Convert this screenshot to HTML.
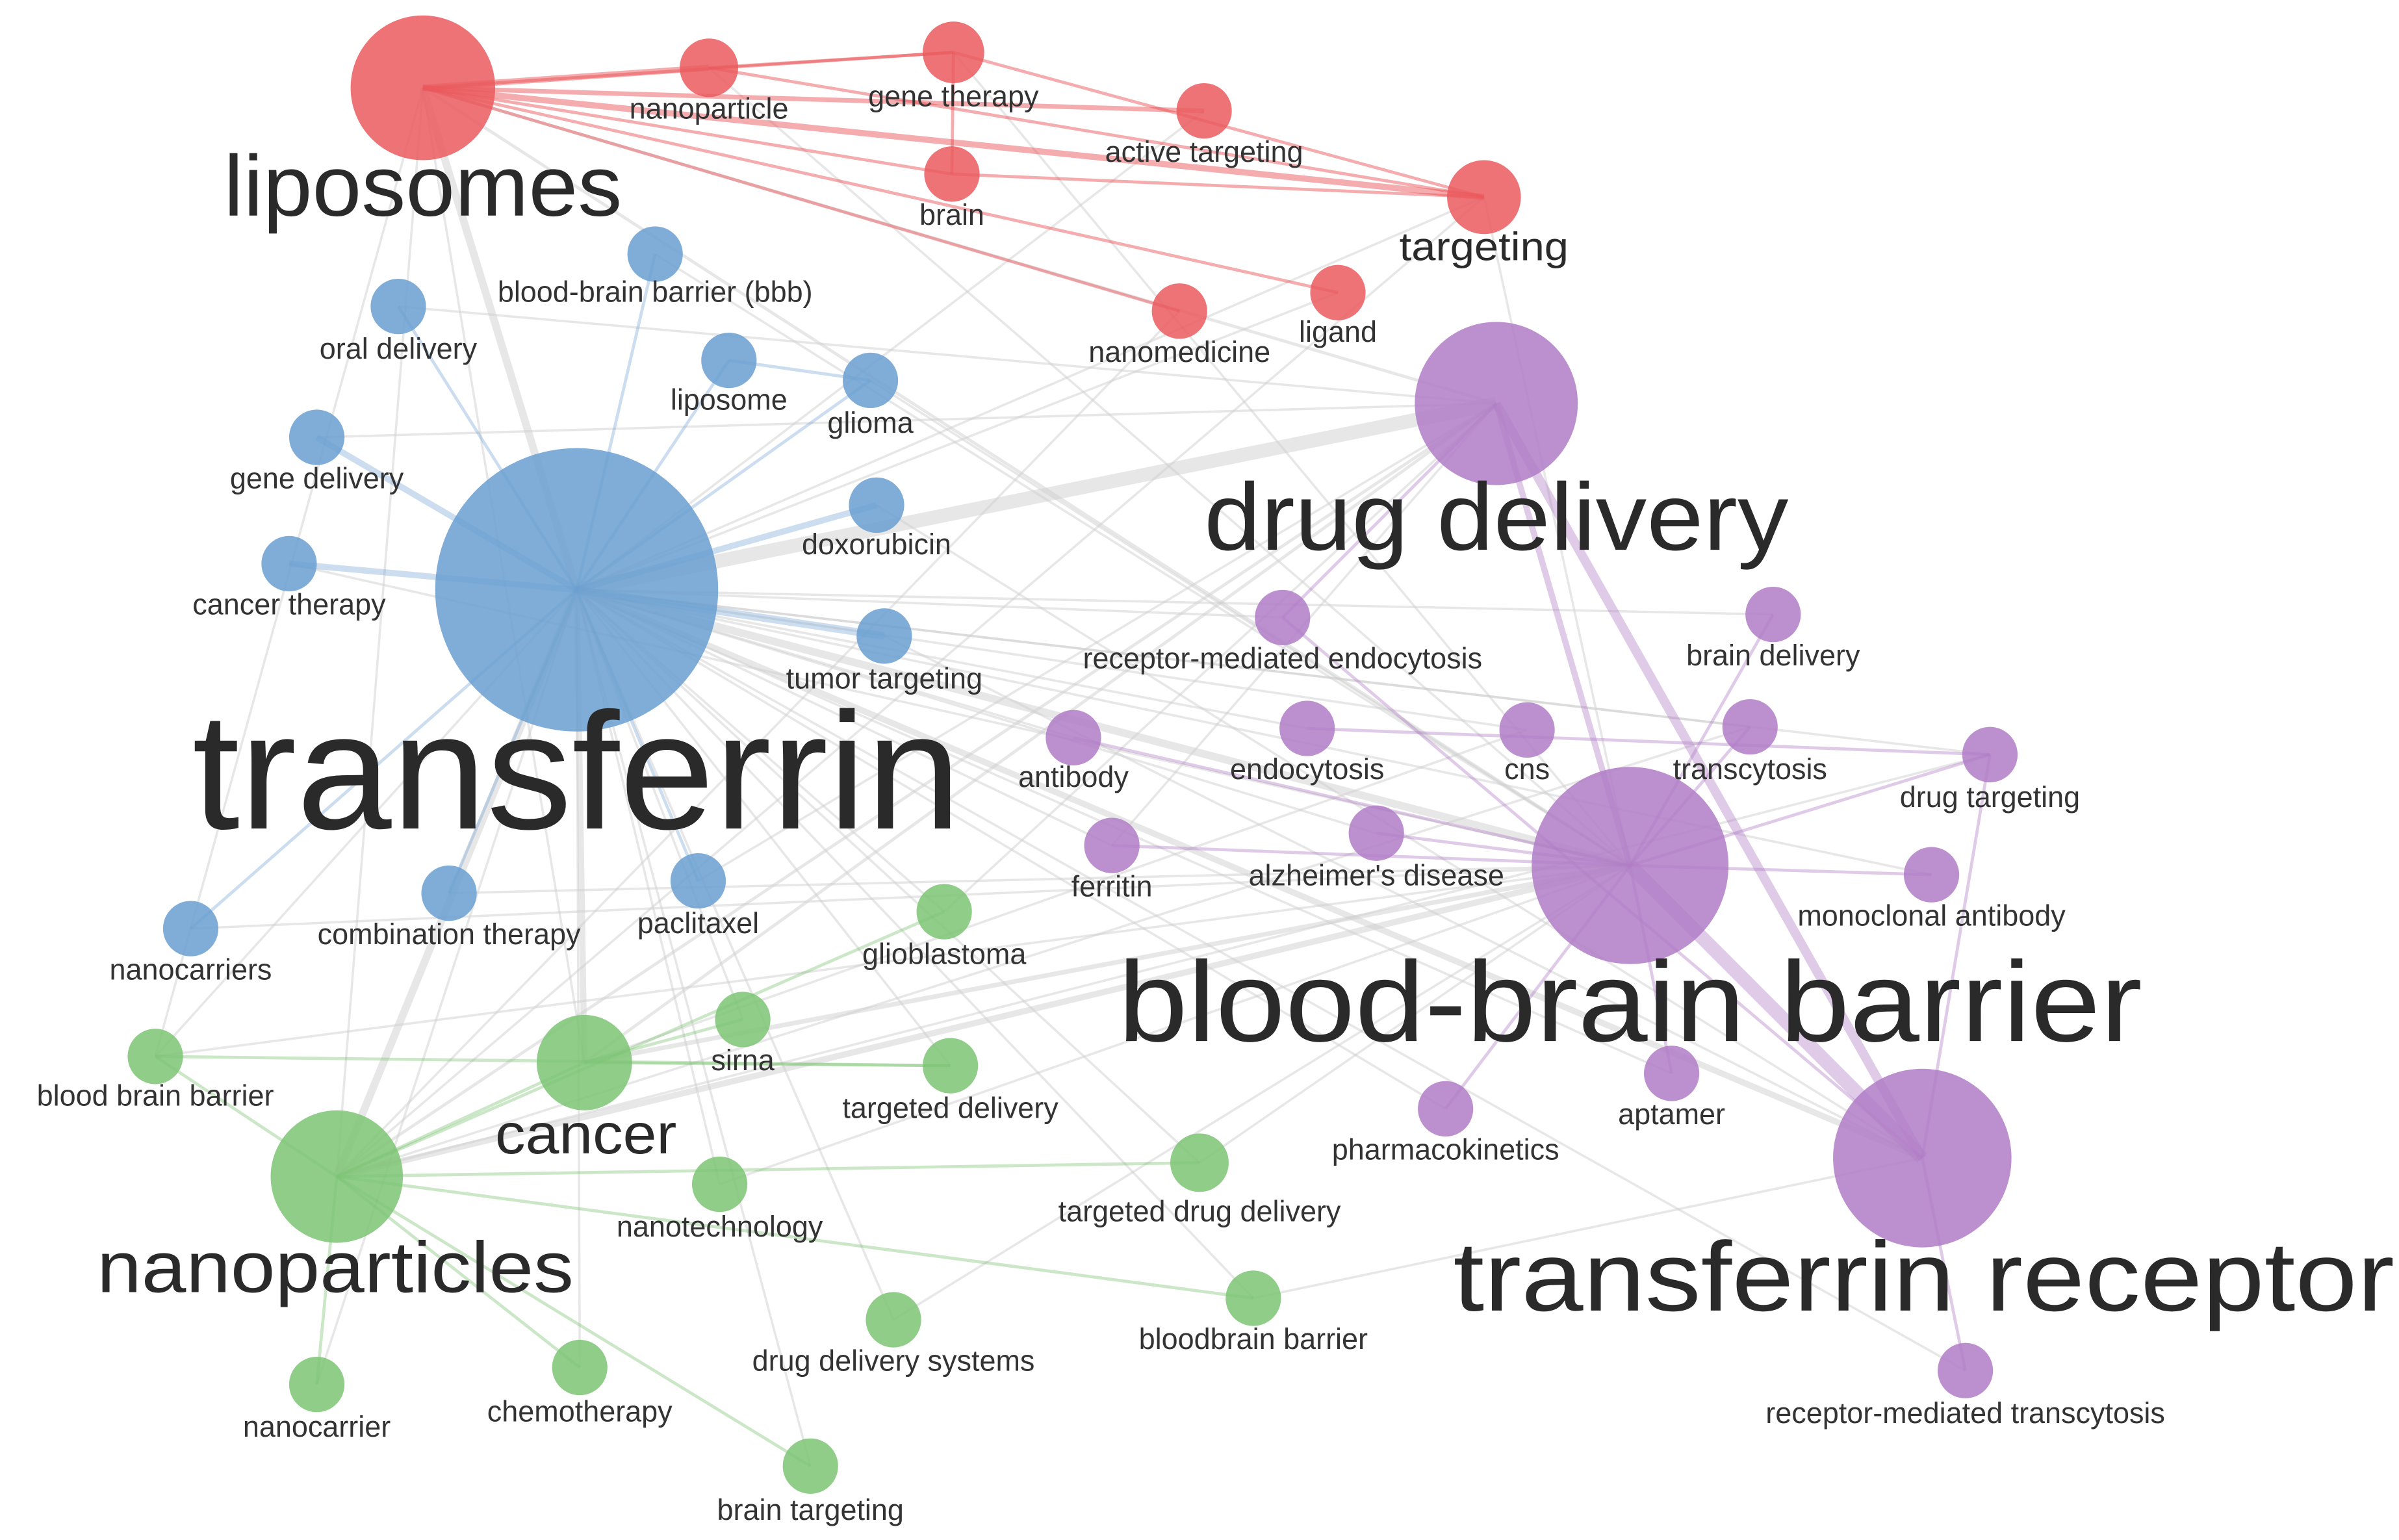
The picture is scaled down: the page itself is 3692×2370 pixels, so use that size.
<!DOCTYPE html>
<html><head><meta charset="utf-8"><style>
html,body{margin:0;padding:0;background:#fff;}
svg{display:block;}
text{font-family:"Liberation Sans",sans-serif;fill:#2a2a2a;text-anchor:middle;}
.s{font-size:19px;fill:#333;}
</style></head><body>
<svg width="3692" height="2370" viewBox="0 0 1560 1000" preserveAspectRatio="none" xmlns="http://www.w3.org/2000/svg">
<g stroke="#d0d0d0" stroke-opacity="0.5" stroke-width="1.5" fill="none">
<line x1="375" y1="383" x2="973" y2="262" stroke-width="9"/>
<line x1="375" y1="383" x2="1060" y2="562" stroke-width="5"/>
<line x1="375" y1="383" x2="1250" y2="752" stroke-width="4"/>
<line x1="375" y1="383" x2="219" y2="764" stroke-width="5"/>
<line x1="375" y1="383" x2="380" y2="690" stroke-width="4"/>
<line x1="375" y1="383" x2="275" y2="57" stroke-width="5"/>
<line x1="219" y1="764" x2="1060" y2="562" stroke-width="4"/>
<line x1="219" y1="764" x2="973" y2="262" stroke-width="2"/>
<line x1="380" y1="690" x2="973" y2="262" stroke-width="2"/>
<line x1="380" y1="690" x2="1060" y2="562" stroke-width="3"/>
<line x1="275" y1="57" x2="1060" y2="562" stroke-width="2"/>
<line x1="275" y1="57" x2="973" y2="262" stroke-width="2"/>
<line x1="275" y1="57" x2="219" y2="764"/>
<line x1="275" y1="57" x2="101" y2="686"/>
<line x1="275" y1="57" x2="380" y2="690"/>
<line x1="965" y1="128" x2="375" y2="383"/>
<line x1="965" y1="128" x2="1060" y2="562"/>
<line x1="965" y1="128" x2="219" y2="764"/>
<line x1="767" y1="202" x2="219" y2="764"/>
<line x1="620" y1="34" x2="1060" y2="562"/>
<line x1="461" y1="44" x2="1060" y2="562"/>
<line x1="783" y1="72" x2="375" y2="383"/>
<line x1="870" y1="190" x2="375" y2="383"/>
<line x1="1294" y1="490" x2="375" y2="383"/>
<line x1="1153" y1="399" x2="375" y2="383"/>
<line x1="1138" y1="472" x2="375" y2="383"/>
<line x1="993" y1="474" x2="375" y2="383"/>
<line x1="850" y1="473" x2="375" y2="383"/>
<line x1="834" y1="401" x2="375" y2="383"/>
<line x1="698" y1="479" x2="375" y2="383"/>
<line x1="723" y1="549" x2="375" y2="383"/>
<line x1="895" y1="541" x2="375" y2="383"/>
<line x1="1256" y1="568" x2="375" y2="383"/>
<line x1="1278" y1="890" x2="375" y2="383"/>
<line x1="940" y1="720" x2="375" y2="383"/>
<line x1="1087" y1="697" x2="375" y2="383"/>
<line x1="780" y1="755" x2="375" y2="383"/>
<line x1="815" y1="843" x2="375" y2="383"/>
<line x1="581" y1="857" x2="375" y2="383"/>
<line x1="527" y1="952" x2="375" y2="383"/>
<line x1="377" y1="888" x2="375" y2="383"/>
<line x1="206" y1="899" x2="375" y2="383"/>
<line x1="468" y1="769" x2="375" y2="383"/>
<line x1="614" y1="592" x2="375" y2="383"/>
<line x1="618" y1="692" x2="375" y2="383"/>
<line x1="483" y1="662" x2="375" y2="383"/>
<line x1="101" y1="686" x2="375" y2="383"/>
<line x1="101" y1="686" x2="1060" y2="562"/>
<line x1="780" y1="755" x2="1060" y2="562"/>
<line x1="815" y1="843" x2="1250" y2="752"/>
<line x1="581" y1="857" x2="1060" y2="562"/>
<line x1="468" y1="769" x2="1060" y2="562"/>
<line x1="614" y1="592" x2="973" y2="262"/>
<line x1="723" y1="549" x2="973" y2="262"/>
<line x1="426" y1="165" x2="1060" y2="562"/>
<line x1="259" y1="199" x2="973" y2="262"/>
<line x1="566" y1="247" x2="1060" y2="562"/>
<line x1="570" y1="328" x2="1250" y2="752"/>
<line x1="575" y1="413" x2="1250" y2="752"/>
<line x1="1294" y1="490" x2="219" y2="764"/>
<line x1="1138" y1="472" x2="219" y2="764"/>
<line x1="993" y1="474" x2="380" y2="690"/>
<line x1="292" y1="580" x2="1060" y2="562"/>
<line x1="454" y1="572" x2="973" y2="262"/>
<line x1="124" y1="603" x2="1060" y2="562"/>
<line x1="206" y1="284" x2="973" y2="262"/>
<line x1="188" y1="366" x2="1060" y2="562"/>
</g>
<g stroke="#e8484c" stroke-opacity="0.45" stroke-width="2">
<line x1="275" y1="57" x2="461" y2="44" stroke-width="4"/>
<line x1="275" y1="57" x2="620" y2="34"/>
<line x1="275" y1="57" x2="783" y2="72" stroke-width="3"/>
<line x1="275" y1="57" x2="619" y2="113"/>
<line x1="275" y1="57" x2="965" y2="128" stroke-width="4"/>
<line x1="275" y1="57" x2="870" y2="190"/>
<line x1="275" y1="57" x2="767" y2="202"/>
<line x1="461" y1="44" x2="620" y2="34"/>
<line x1="461" y1="44" x2="965" y2="128"/>
<line x1="619" y1="113" x2="965" y2="128"/>
<line x1="620" y1="34" x2="965" y2="128"/>
<line x1="620" y1="34" x2="619" y2="113"/>
</g>
<g stroke="#6a9fd0" stroke-opacity="0.35" stroke-width="2">
<line x1="375" y1="383" x2="426" y2="165"/>
<line x1="375" y1="383" x2="259" y2="199"/>
<line x1="375" y1="383" x2="474" y2="234"/>
<line x1="375" y1="383" x2="566" y2="247"/>
<line x1="375" y1="383" x2="206" y2="284" stroke-width="4"/>
<line x1="375" y1="383" x2="570" y2="328" stroke-width="4"/>
<line x1="375" y1="383" x2="188" y2="366" stroke-width="4"/>
<line x1="375" y1="383" x2="575" y2="413" stroke-width="5"/>
<line x1="375" y1="383" x2="292" y2="580"/>
<line x1="375" y1="383" x2="454" y2="572"/>
<line x1="375" y1="383" x2="124" y2="603"/>
<line x1="474" y1="234" x2="566" y2="247"/>
</g>
<g stroke="#b07cc6" stroke-opacity="0.4" stroke-width="2">
<line x1="973" y1="262" x2="1250" y2="752" stroke-width="6"/>
<line x1="1060" y1="562" x2="1250" y2="752" stroke-width="9"/>
<line x1="973" y1="262" x2="1060" y2="562" stroke-width="4"/>
<line x1="973" y1="262" x2="834" y2="401"/>
<line x1="1060" y1="562" x2="1153" y2="399"/>
<line x1="1060" y1="562" x2="1138" y2="472"/>
<line x1="1060" y1="562" x2="1294" y2="490"/>
<line x1="1060" y1="562" x2="1256" y2="568"/>
<line x1="1060" y1="562" x2="1087" y2="697"/>
<line x1="1060" y1="562" x2="940" y2="720"/>
<line x1="1060" y1="562" x2="895" y2="541"/>
<line x1="1060" y1="562" x2="723" y2="549"/>
<line x1="1250" y1="752" x2="1278" y2="890"/>
<line x1="1250" y1="752" x2="1294" y2="490"/>
<line x1="850" y1="473" x2="1294" y2="490"/>
<line x1="698" y1="479" x2="1060" y2="562"/>
<line x1="834" y1="401" x2="1250" y2="752"/>
</g>
<g stroke="#7cc474" stroke-opacity="0.4" stroke-width="2">
<line x1="219" y1="764" x2="380" y2="690"/>
<line x1="219" y1="764" x2="101" y2="686"/>
<line x1="219" y1="764" x2="614" y2="592"/>
<line x1="219" y1="764" x2="780" y2="755"/>
<line x1="219" y1="764" x2="815" y2="843"/>
<line x1="219" y1="764" x2="527" y2="952"/>
<line x1="219" y1="764" x2="206" y2="899"/>
<line x1="219" y1="764" x2="377" y2="888"/>
<line x1="380" y1="690" x2="618" y2="692"/>
<line x1="101" y1="686" x2="618" y2="692"/>
<line x1="380" y1="690" x2="483" y2="662"/>
</g>
<g fill-opacity="0.85">
<g fill="#ea5a5e">
<circle cx="275" cy="57" r="47"/><circle cx="461" cy="44" r="19"/><circle cx="620" cy="34" r="20"/><circle cx="783" cy="72" r="18"/><circle cx="619" cy="113" r="18"/><circle cx="965" cy="128" r="24"/><circle cx="870" cy="190" r="18"/><circle cx="767" cy="202" r="18"/>
</g>
<g fill="#6a9fd0">
<circle cx="375" cy="383" r="92"/><circle cx="426" cy="165" r="18"/><circle cx="259" cy="199" r="18"/><circle cx="474" cy="234" r="18"/><circle cx="566" cy="247" r="18"/><circle cx="206" cy="284" r="18"/><circle cx="570" cy="328" r="18"/><circle cx="188" cy="366" r="18"/><circle cx="575" cy="413" r="18"/><circle cx="292" cy="580" r="18"/><circle cx="454" cy="572" r="18"/><circle cx="124" cy="603" r="18"/>
</g>
<g fill="#b07cc6">
<circle cx="973" cy="262" r="53"/><circle cx="834" cy="401" r="18"/><circle cx="1153" cy="399" r="18"/><circle cx="698" cy="479" r="18"/><circle cx="850" cy="473" r="18"/><circle cx="993" cy="474" r="18"/><circle cx="1138" cy="472" r="18"/><circle cx="1294" cy="490" r="18"/><circle cx="723" cy="549" r="18"/><circle cx="895" cy="541" r="18"/><circle cx="1060" cy="562" r="64"/><circle cx="1256" cy="568" r="18"/><circle cx="1087" cy="697" r="18"/><circle cx="940" cy="720" r="18"/><circle cx="1250" cy="752" r="58"/><circle cx="1278" cy="890" r="18"/>
</g>
<g fill="#7cc474">
<circle cx="614" cy="592" r="18"/><circle cx="483" cy="662" r="18"/><circle cx="618" cy="692" r="18"/><circle cx="101" cy="686" r="18"/><circle cx="380" cy="690" r="31"/><circle cx="219" cy="764" r="43"/><circle cx="468" cy="769" r="18"/><circle cx="780" cy="755" r="19"/><circle cx="815" cy="843" r="18"/><circle cx="581" cy="857" r="18"/><circle cx="206" cy="899" r="18"/><circle cx="377" cy="888" r="18"/><circle cx="527" cy="952" r="18"/>
</g>
</g>
<g>
<text x="275" y="140" font-size="56" textLength="259" lengthAdjust="spacingAndGlyphs">liposomes</text>
<text x="375" y="538" font-size="108" textLength="500" lengthAdjust="spacingAndGlyphs" fill="#111">transferrin</text>
<text x="973" y="357" font-size="62" textLength="380" lengthAdjust="spacingAndGlyphs">drug delivery</text>
<text x="1060" y="676" font-size="74" textLength="666" lengthAdjust="spacingAndGlyphs">blood-brain barrier</text>
<text x="1251" y="851" font-size="64" textLength="612" lengthAdjust="spacingAndGlyphs">transferrin receptor</text>
<text x="218" y="839" font-size="47" textLength="310" lengthAdjust="spacingAndGlyphs">nanoparticles</text>
<text x="381" y="749" font-size="37" textLength="118" lengthAdjust="spacingAndGlyphs">cancer</text>
<text x="965" y="169" font-size="26" textLength="110" lengthAdjust="spacingAndGlyphs">targeting</text>
</g>
<g class="s">
<text class="s" x="461" y="77">nanoparticle</text>
<text class="s" x="620" y="69">gene therapy</text>
<text class="s" x="783" y="105">active targeting</text>
<text class="s" x="619" y="146">brain</text>
<text class="s" x="870" y="222">ligand</text>
<text class="s" x="767" y="235">nanomedicine</text>
<text class="s" x="426" y="196">blood-brain barrier (bbb)</text>
<text class="s" x="259" y="233">oral delivery</text>
<text class="s" x="474" y="266">liposome</text>
<text class="s" x="566" y="281">glioma</text>
<text class="s" x="206" y="317">gene delivery</text>
<text class="s" x="570" y="360">doxorubicin</text>
<text class="s" x="188" y="399">cancer therapy</text>
<text class="s" x="575" y="447">tumor targeting</text>
<text class="s" x="292" y="613">combination therapy</text>
<text class="s" x="454" y="606">paclitaxel</text>
<text class="s" x="124" y="636">nanocarriers</text>
<text class="s" x="834" y="434">receptor-mediated endocytosis</text>
<text class="s" x="1153" y="432">brain delivery</text>
<text class="s" x="698" y="511">antibody</text>
<text class="s" x="850" y="506">endocytosis</text>
<text class="s" x="993" y="506">cns</text>
<text class="s" x="1138" y="506">transcytosis</text>
<text class="s" x="1294" y="524">drug targeting</text>
<text class="s" x="723" y="582">ferritin</text>
<text class="s" x="895" y="575">alzheimer's disease</text>
<text class="s" x="1256" y="601">monoclonal antibody</text>
<text class="s" x="1087" y="730">aptamer</text>
<text class="s" x="940" y="753">pharmacokinetics</text>
<text class="s" x="1278" y="924">receptor-mediated transcytosis</text>
<text class="s" x="614" y="626">glioblastoma</text>
<text class="s" x="483" y="695">sirna</text>
<text class="s" x="618" y="726">targeted delivery</text>
<text class="s" x="101" y="718">blood brain barrier</text>
<text class="s" x="468" y="803">nanotechnology</text>
<text class="s" x="780" y="793">targeted drug delivery</text>
<text class="s" x="815" y="876">bloodbrain barrier</text>
<text class="s" x="581" y="890">drug delivery systems</text>
<text class="s" x="206" y="933">nanocarrier</text>
<text class="s" x="377" y="923">chemotherapy</text>
<text class="s" x="527" y="987">brain targeting</text>
</g>
</svg>
</body></html>
